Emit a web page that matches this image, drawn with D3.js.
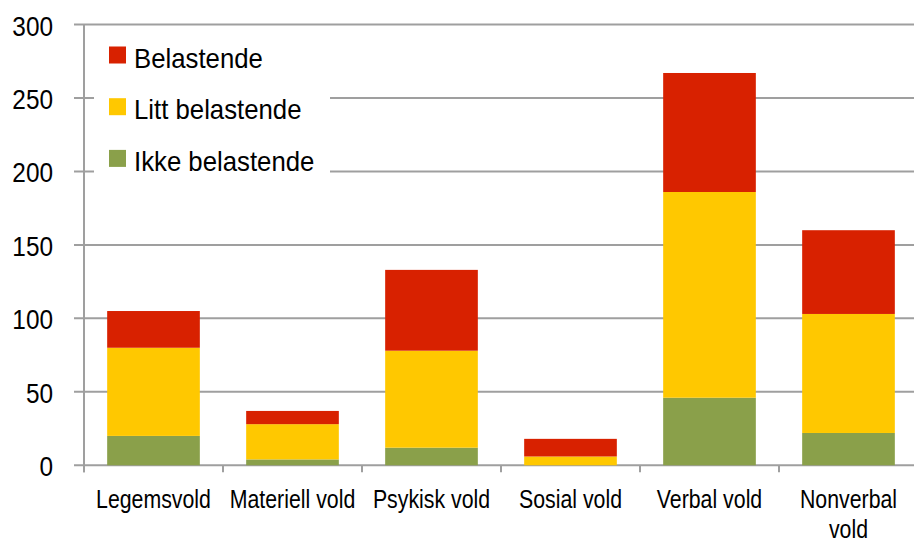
<!DOCTYPE html>
<html>
<head>
<meta charset="utf-8">
<script src="https://cdn.jsdelivr.net/npm/d3@7"></script>
<style>
  body { margin: 0; background: #fff; }
  text { font-family: "Liberation Sans", Arial, sans-serif; fill: #000; }
</style>
</head>
<body>
<div id="chart"></div>
<script>
(function () {

  // categories + stacked values
  const categories = ['Legemsvold', 'Materiell vold', 'Psykisk vold', 'Sosial vold', 'Verbal vold', 'Nonverbal vold']
  const ikkeBelastende = [20, 4, 12, 0, 46, 22]
  const littBelastende = [60, 24, 66, 6, 140, 81]
  const belastende = [25, 9, 55, 12, 81, 57]
  const seriesNames = ['Ikke belastende', 'Litt belastende', 'Belastende']
  const seriesColors = ['#8aa04a', '#ffc800', '#d82100']
  const yTicks = [0, 50, 100, 150, 200, 250, 300]

  const W = 914, H = 542
  const left = 84, top = 24.5, plotH = 440.8, band = 139

  const svg = d3.select('#chart').append('svg')
    .attr('width', W)
    .attr('height', H)

  const rows = categories.map((c, i) => ({
    cat: c,
    'Ikke belastende': ikkeBelastende[i],
    'Litt belastende': littBelastende[i],
    'Belastende': belastende[i]
  }))
  const stacked = d3.stack().keys(seriesNames)(rows)

  const x = d3.scaleBand()
    .domain(categories)
    .range([left, left + band * categories.length])
    .paddingInner(1 / 3)
    .paddingOuter(1 / 6)

  const y = d3.scaleLinear()
    .domain([0, 300])
    .range([top + plotH, top])

  const color = d3.scaleOrdinal().domain(seriesNames).range(seriesColors)

  // gridlines (0 is the axis line)
  svg.append('g')
    .selectAll('line')
    .data(yTicks)
    .join('line')
    .attr('x1', left - 10)
    .attr('x2', W)
    .attr('y1', d => y(d))
    .attr('y2', d => y(d))
    .attr('stroke', '#9f9f9f')
    .attr('stroke-width', 2)

  // y axis line
  svg.append('line')
    .attr('x1', left).attr('x2', left)
    .attr('y1', y(300)).attr('y2', y(0) + 7)
    .attr('stroke', '#9f9f9f')
    .attr('stroke-width', 2)

  // x ticks at band edges
  const edges = d3.range(categories.length + 1).map(i => left + i * band)
  svg.append('g')
    .selectAll('line')
    .data(edges)
    .join('line')
    .attr('x1', d => d).attr('x2', d => d)
    .attr('y1', y(0)).attr('y2', y(0) + 7)
    .attr('stroke', '#9f9f9f')
    .attr('stroke-width', 2)

  // y tick labels
  svg.append('g')
    .selectAll('text')
    .data(yTicks)
    .join('text')
    .attr('transform', d => 'translate(53,' + (y(d) + 11) + ') scale(0.87,1)')
    .attr('text-anchor', 'end')
    .style('font-size', '28px')
    .text(d => d)

  // bars
  svg.append('g')
    .selectAll('g')
    .data(stacked)
    .join('g')
    .attr('fill', d => color(d.key))
    .selectAll('rect')
    .data(d => d)
    .join('rect')
    .attr('x', d => x(d.data.cat))
    .attr('width', x.bandwidth())
    .attr('y', d => y(d[1]))
    .attr('height', d => y(d[0]) - y(d[1]))

  // x labels, wrapped when wider than the band
  const xl = svg.append('g')
    .selectAll('text')
    .data(categories)
    .join('text')
    .attr('transform', d => 'translate(' + (x(d) + x.bandwidth() / 2) + ',508) scale(0.82,1)')
    .attr('text-anchor', 'middle')
    .style('font-size', '26px')
    .text(d => d)

  xl.each(function (d) {
    const t = d3.select(this)
    if (this.getComputedTextLength() * 0.82 > band - 4) {
      const words = d.split(' ')
      t.text(null)
      words.forEach((w, i) => {
        t.append('tspan').attr('x', 0).attr('dy', i === 0 ? 0 : 30).text(w)
      })
    }
  })

  // legend (white box over gridlines)
  const legend = svg.append('g')
  legend.append('rect')
    .attr('x', 94).attr('y', 30)
    .attr('width', 236).attr('height', 160)
    .attr('fill', '#fff')

  const legendOrder = ['Belastende', 'Litt belastende', 'Ikke belastende']
  const item = legend.selectAll('g')
    .data(legendOrder)
    .join('g')
    .attr('transform', (d, i) => 'translate(0,' + (55 + i * 51.7) + ')')

  item.append('rect')
    .attr('x', 109).attr('y', -8.5)
    .attr('width', 17).attr('height', 17)
    .attr('fill', d => color(d))

  item.append('text')
    .attr('transform', 'translate(134,12.5) scale(0.92,1)')
    .style('font-size', '28px')
    .text(d => d)

})();
</script>
</body>
</html>
